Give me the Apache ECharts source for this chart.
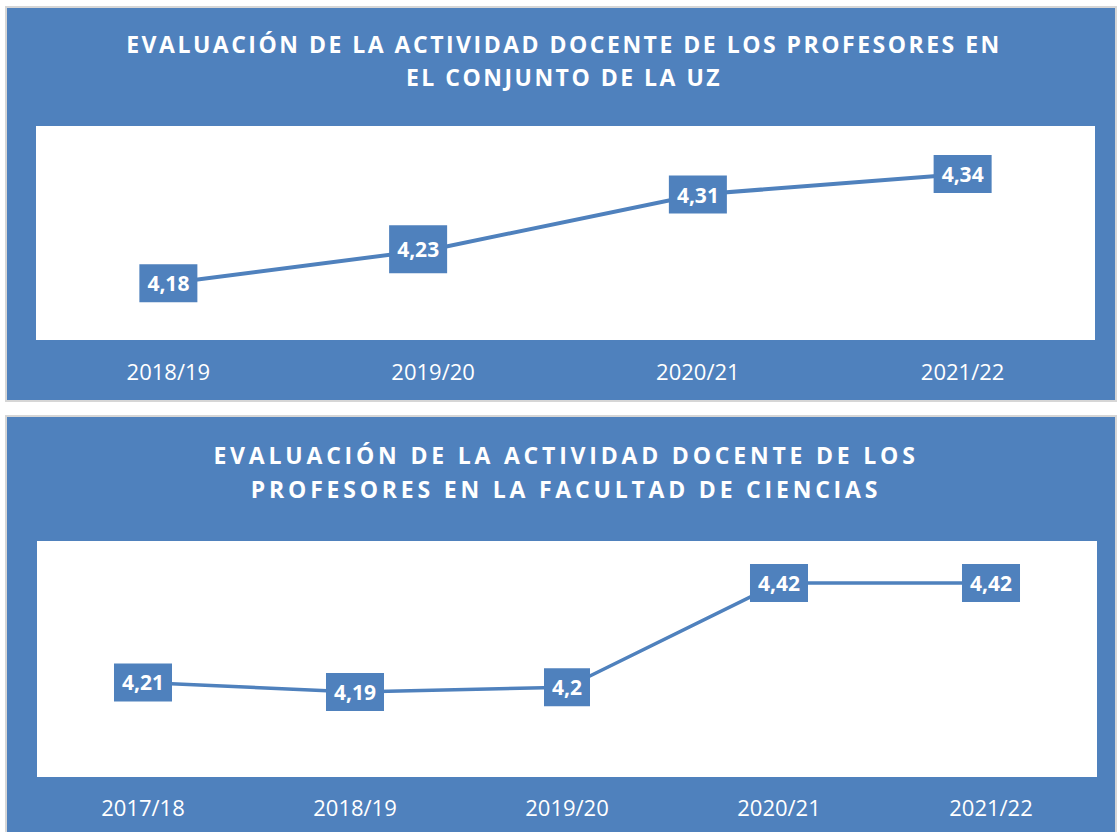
<!DOCTYPE html>
<html>
<head>
<meta charset="utf-8">
<script src="https://cdn.jsdelivr.net/npm/echarts@6/dist/echarts.min.js"></script>
<style>
  html, body { margin: 0; padding: 0; background: #ffffff; }
  #chart { width: 1117px; height: 832px; }
</style>
</head>
<body>
<div id="chart"></div>
<script>
// ---- data ----
const topTitle = ['EVALUACIÓN DE LA ACTIVIDAD DOCENTE DE LOS PROFESORES EN', 'EL CONJUNTO DE LA UZ'];
const topCategories = ['2018/19', '2019/20', '2020/21', '2021/22'];
const topValues = [4.18, 4.23, 4.31, 4.34];

const botTitle = ['EVALUACIÓN DE LA ACTIVIDAD DOCENTE DE LOS', 'PROFESORES EN LA FACULTAD DE CIENCIAS'];
const botCategories = ['2017/18', '2018/19', '2019/20', '2020/21', '2021/22'];
const botValues = [4.21, 4.19, 4.2, 4.42, 4.42];

// ---- styles ----
const BLUE = '#4F81BD';
const FONT = 'Open Sans';
const fmt = v => String(v).replace('.', ',');

const baseLabel = {
  show: true,
  position: 'inside',
  formatter: p => fmt(p.value),
  color: '#ffffff',
  fontFamily: FONT,
  fontWeight: 'bold',
  fontSize: 21,
  lineHeight: 22,
  backgroundColor: BLUE,
  padding: [8, 8]
};

const topData = topValues.map((v, i) => {
  if (i === 1) return { value: v, label: { offset: [-15, 0], padding: [13, 8] } };
  return v;
});

const chart = echarts.init(document.getElementById('chart'), null, { renderer: 'svg' });

const option = {
  animation: false,
  backgroundColor: '#ffffff',
  title: [
    {
      text: topTitle.join('\n'),
      left: 564,
      top: 27,
      padding: 0,
      textAlign: 'center',
      textStyle: { color: '#ffffff', fontFamily: FONT, fontWeight: 'bold', fontSize: 23, lineHeight: 33 }
    },
    {
      text: botTitle.join('\n'),
      left: 566,
      top: 438,
      padding: 0,
      textAlign: 'center',
      textStyle: { color: '#ffffff', fontFamily: FONT, fontWeight: 'bold', fontSize: 23, lineHeight: 34 }
    }
  ],
  graphic: [
    { type: 'rect', z: -100, shape: { x: 6, y: 7, width: 1110, height: 394 }, style: { fill: BLUE, stroke: '#D6D6D6', lineWidth: 2 } },
    { type: 'rect', z: -99, shape: { x: 36, y: 126, width: 1059, height: 214 }, style: { fill: '#ffffff' } },
    { type: 'rect', z: -100, shape: { x: 6, y: 416, width: 1110, height: 430 }, style: { fill: BLUE, stroke: '#D6D6D6', lineWidth: 2 } },
    { type: 'rect', z: -99, shape: { x: 37, y: 541, width: 1060, height: 236 }, style: { fill: '#ffffff' } }
  ],
  grid: [
    { left: 36, width: 1059, top: 133, height: 205 },
    { left: 37, width: 1060, top: 545, height: 237 }
  ],
  xAxis: [
    {
      type: 'category', gridIndex: 0, data: topCategories, boundaryGap: true,
      axisLine: { show: false }, axisTick: { show: false }, splitLine: { show: false },
      axisLabel: { color: '#ffffff', fontFamily: FONT, fontSize: 22, lineHeight: 22, margin: 22 }
    },
    {
      type: 'category', gridIndex: 1, data: botCategories, boundaryGap: true,
      axisLine: { show: false }, axisTick: { show: false }, splitLine: { show: false },
      axisLabel: { color: '#ffffff', fontFamily: FONT, fontSize: 22, lineHeight: 22, margin: 14 }
    }
  ],
  yAxis: [
    { type: 'value', gridIndex: 0, min: 4.1, max: 4.4, show: false, splitLine: { show: false } },
    { type: 'value', gridIndex: 1, min: 4.0, max: 4.5, show: false, splitLine: { show: false } }
  ],
  series: [
    {
      type: 'line', xAxisIndex: 0, yAxisIndex: 0, data: topData,
      symbol: 'circle', symbolSize: 1, showSymbol: true,
      itemStyle: { color: BLUE },
      lineStyle: { color: BLUE, width: 4 },
      label: baseLabel
    },
    {
      type: 'line', xAxisIndex: 1, yAxisIndex: 1, data: botValues,
      symbol: 'circle', symbolSize: 1, showSymbol: true,
      itemStyle: { color: BLUE },
      lineStyle: { color: BLUE, width: 3.5 },
      label: baseLabel
    }
  ]
};

chart.setOption(option);

function spaceTitles() {
  document.querySelectorAll('#chart svg text').forEach(t => {
    const s = t.textContent.trim();
    if (topTitle.indexOf(s) >= 0) t.setAttribute('letter-spacing', '2.5');
    else if (botTitle.indexOf(s) >= 0) t.setAttribute('letter-spacing', '3.8');
  });
}
chart.on('finished', spaceTitles);
spaceTitles();
setTimeout(spaceTitles, 50);
</script>
</body>
</html>
